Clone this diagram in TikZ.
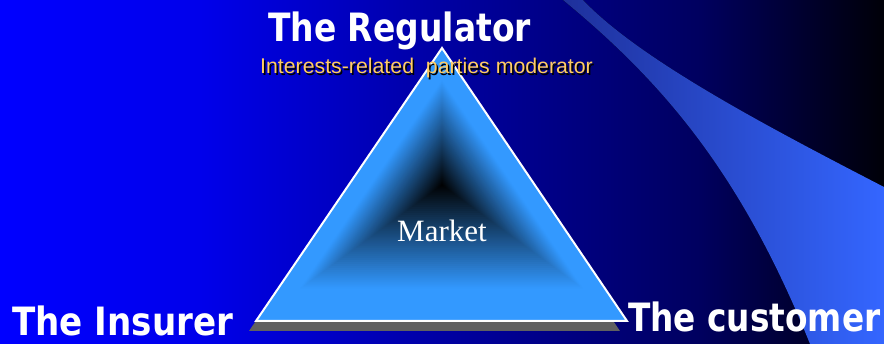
\documentclass[tikz,border=0pt]{standalone}
\usepackage{fontspec}
\setmainfont{Liberation Serif}
\newfontfamily\headfont{DejaVu Sans}
\newfontfamily\notefont{Liberation Sans}
\usetikzlibrary{calc}

\definecolor{bgA}{RGB}{0,0,255}
\definecolor{bgB}{RGB}{0,0,235}
\definecolor{bgC}{RGB}{0,0,160}
\definecolor{bgD}{RGB}{0,0,95}
\definecolor{bgE}{RGB}{0,0,8}
\definecolor{wavedim}{RGB}{30,48,155}
\definecolor{wavelight}{RGB}{52,102,255}
\definecolor{trilight}{RGB}{51,153,255}
\definecolor{trishadow}{RGB}{96,96,96}
\definecolor{notegold}{RGB}{255,204,102}

\pgfdeclarehorizontalshading{slidebg}{100bp}{color(0bp)=(bgA); color(25bp)=(bgA);
  color(36.3bp)=(bgB); color(50.5bp)=(bgC); color(64.6bp)=(bgD); color(75bp)=(bgE);
  color(100bp)=(bgE)}

\tikzset{
  head/.style={font=\headfont\bfseries\fontsize{39}{39}\selectfont, text=white,
    inner sep=0pt, anchor=base west},
  note/.style={font=\notefont\fontsize{21.3}{21.3}\selectfont, inner sep=0pt, anchor=base west},
}

\begin{document}
\begin{tikzpicture}[x=1pt,y=-1pt]
    \useasboundingbox (0,0) rectangle (884,344);

    % Background
    \fill[shading=slidebg] (0,0) rectangle (884,344);

    % Wave band
    \fill[left color=wavedim, right color=wavelight]
        (563,0) .. controls (660,80) and (740,170) .. (810,344) -- (884,344) -- (884,187)
        .. controls (770,128) and (640,60) .. (583,0) -- cycle;

    % Triangle corners
    \coordinate (A) at (442,48);
    \coordinate (L) at (256,321);
    \coordinate (R) at (627,321);
    \coordinate (M) at (442,185);

    % Shadow
    \fill[trishadow] ($(A)+(-7,10)$) -- ($(L)+(-7,10)$) -- ($(R)+(-7,10)$) -- cycle;

    % Market triangle
    \foreach \s in {1.00,0.985,...,0.01} {
        \pgfmathsetmacro{\p}{min(100,\s*130)}
        \fill[trilight!\p!black] ($(M)!\s!(A)$) -- ($(M)!\s!(L)$) -- ($(M)!\s!(R)$) -- cycle;
    }
    \draw[white, line width=2pt, line join=miter] (A) -- (L) -- (R) -- cycle;

    % Labels
    \node[head] (regulator) at (268,42) {\scalebox{0.845}[1]{The Regulator}};
    \node[note, text=black] (moderatorshadow) at (261.5,75.5) {Interests-related\ \ parties moderator};
    \node[note, text=notegold] (moderator) at (260,74) {Interests-related\ \ parties moderator};
    \node[font=\fontsize{31}{31}\selectfont, text=white] (market) at (M|-0,231) {Market};
    \node[head] (insurer) at (12,336) {\scalebox{0.875}[1]{The Insurer}};
    \node[head] (customer) at (628,332) {\scalebox{0.84}[1]{The customer}};
\end{tikzpicture}
\end{document}
